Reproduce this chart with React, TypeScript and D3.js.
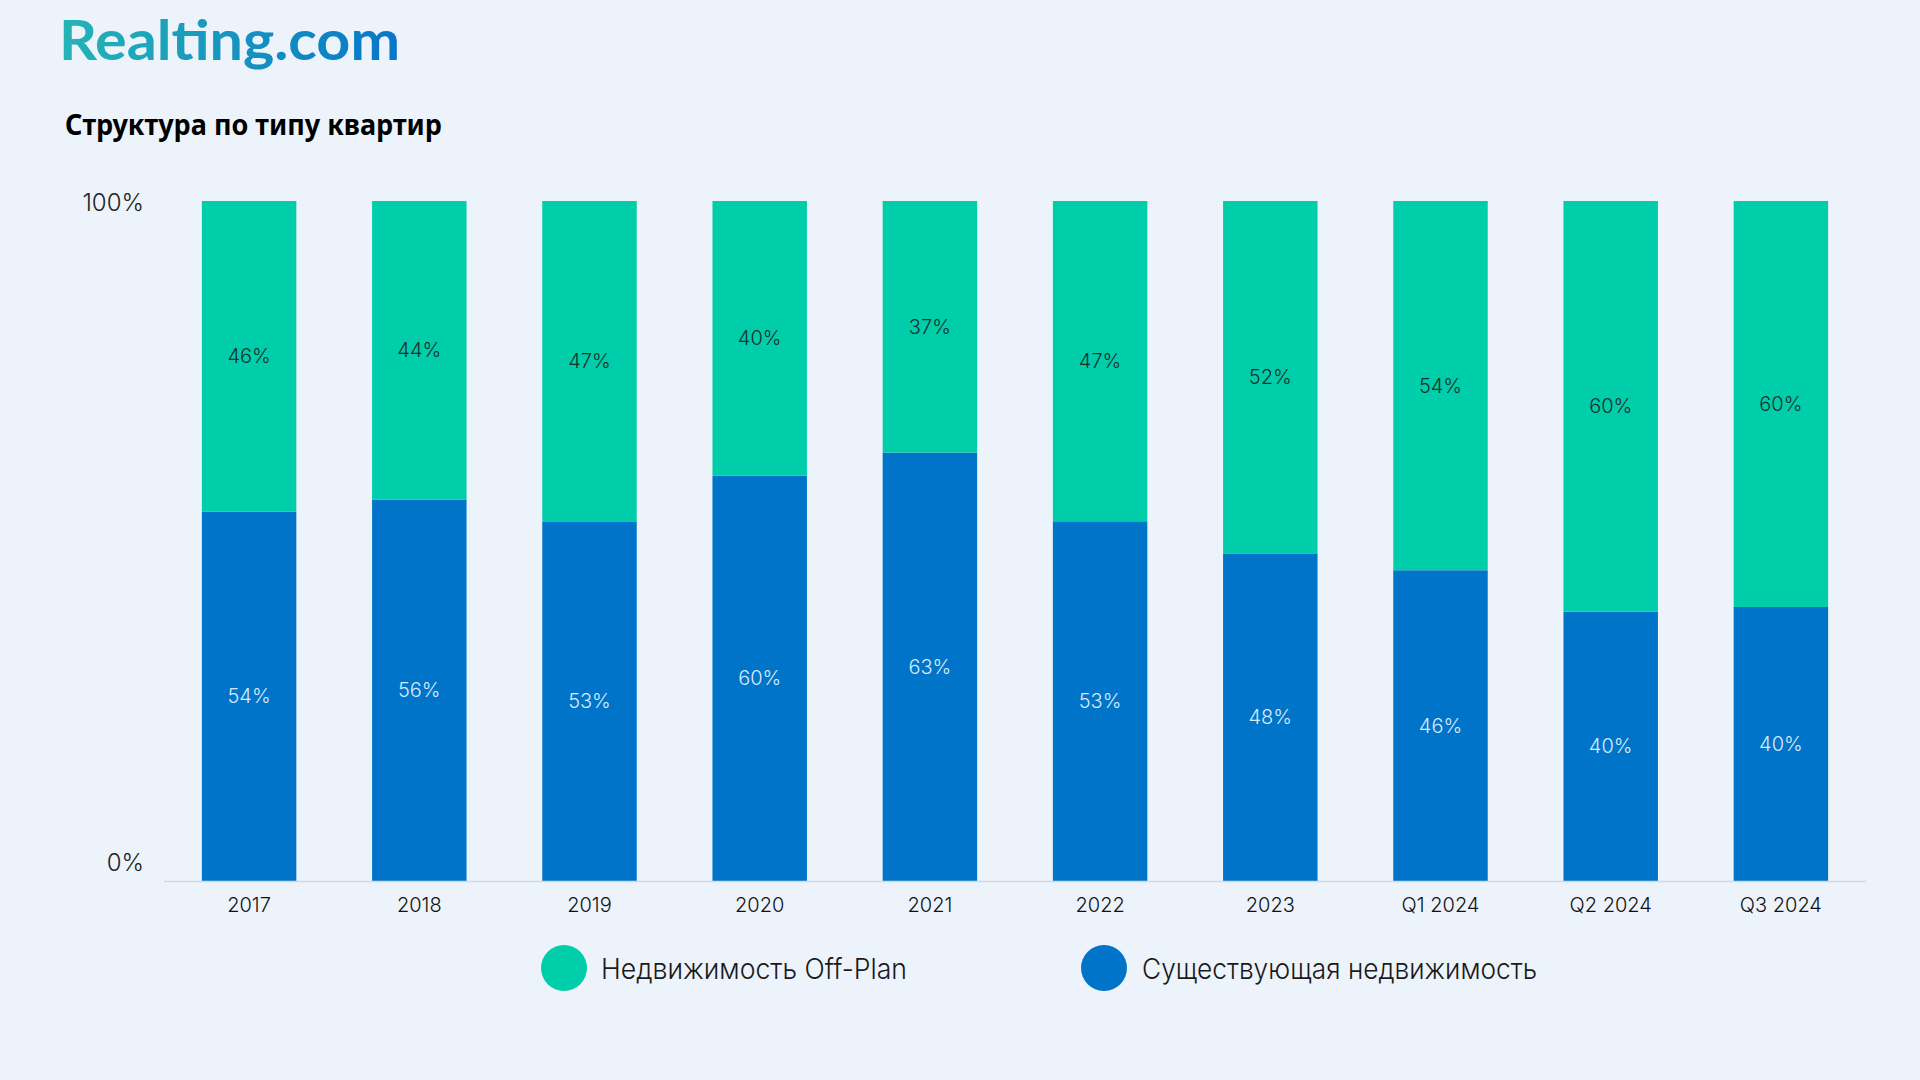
import React from "react";
import * as d3 from "d3";

const categories = ["2017", "2018", "2019", "2020", "2021", "2022", "2023", "Q1 2024", "Q2 2024", "Q3 2024"];
const existingValues = [54.3, 56.1, 52.8, 59.6, 63.0, 52.9, 48.1, 45.7, 39.6, 40.3];
const offPlanValues = [45.7, 43.9, 47.2, 40.4, 37.0, 47.1, 51.9, 54.3, 60.4, 59.7];
const yTicks = [0, 100];
const seriesNames = ["Недвижимость Off-Plan", "Существующая недвижимость"];

const W = 1920;
const H = 1080;
const BG = "#EDF3FB";
const GREEN = "#00CDAA";
const BLUE = "#0074C8";
const FONT = "Inter, 'Noto Sans', sans-serif";

export default function App() {
  const x = d3.scaleBand<string>().domain(categories).range([164, 1866]).paddingInner(0.445).paddingOuter(0.2225);
  const y = d3.scaleLinear().domain([0, 100]).range([881, 201]);
  const bw = x.bandwidth();

  return (
    <div style={{ position: "fixed", left: 0, top: 0, width: W, height: H, background: BG }}>
      <svg width={W} height={H} viewBox={`0 0 ${W} ${H}`} style={{ display: "block" }}>
        <defs>
          <linearGradient id="logoGrad" x1="0" x2="1" y1="0" y2="0">
            <stop offset="0%" stopColor="#25B4B6" />
            <stop offset="100%" stopColor="#0876C9" />
          </linearGradient>
        </defs>
        <rect x={0} y={0} width={W} height={H} fill={BG} />
        <text x={59} y={60} fontFamily="Lato, 'Open Sans', sans-serif" fontWeight={700} fontSize={55}
          fill="url(#logoGrad)" textLength={341} lengthAdjust="spacingAndGlyphs">Realting.com</text>
        <text x={65} y={135} fontFamily="'Noto Sans', sans-serif" fontWeight={700} fontSize={28}
          fill="#000" textLength={377} lengthAdjust="spacingAndGlyphs">Структура по типу квартир</text>

        {/* y tick labels */}
        {yTicks.map((t) => (
          <text key={t} x={144} y={t === 100 ? y(t) + 1 : y(t) - 19} textAnchor="end" dominantBaseline="central"
            fontFamily={FONT} fontWeight={300} fontSize={24} fill="#222">{`${t}%`}</text>
        ))}

        {/* bars */}
        {categories.map((c, i) => {
          const x0 = x(c)!;
          const e = existingValues[i];
          const o = offPlanValues[i];
          const yE = y(e);
          const yO = y(e + o);
          return (
            <g key={c}>
              <rect x={x0} y={yE} width={bw} height={y(0) - yE} fill={BLUE} />
              <rect x={x0} y={yO} width={bw} height={yE - yO} fill={GREEN} />
              <text x={x0 + bw / 2} y={(y(0) + yE) / 2} textAnchor="middle" dominantBaseline="central"
                fontFamily={FONT} fontWeight={300} fontSize={20} fill="#D6EAFB">{`${Math.round(e)}%`}</text>
              <text x={x0 + bw / 2} y={(yE + yO) / 2} textAnchor="middle" dominantBaseline="central"
                fontFamily={FONT} fontWeight={300} fontSize={20} fill="#17332E">{`${Math.round(o)}%`}</text>
              <text x={x0 + bw / 2} y={905} textAnchor="middle" dominantBaseline="central"
                fontFamily={FONT} fontWeight={300} fontSize={20} fill="#111">{c}</text>
            </g>
          );
        })}

        {/* axis line */}
        <line x1={164} x2={1866} y1={881.5} y2={881.5} stroke="#D3D9E1" strokeWidth={1.5} />

        {/* legend */}
        <circle cx={564} cy={968} r={23} fill={GREEN} />
        <text x={601} y={969} dominantBaseline="central" fontFamily={FONT} fontWeight={300} fontSize={28}
          fill="#1a1a1a" textLength={306} lengthAdjust="spacingAndGlyphs">{seriesNames[0]}</text>
        <circle cx={1104} cy={968} r={23} fill={BLUE} />
        <text x={1142} y={969} dominantBaseline="central" fontFamily={FONT} fontWeight={300} fontSize={28}
          fill="#1a1a1a" textLength={395} lengthAdjust="spacingAndGlyphs">{seriesNames[1]}</text>
      </svg>
    </div>
  );
}
